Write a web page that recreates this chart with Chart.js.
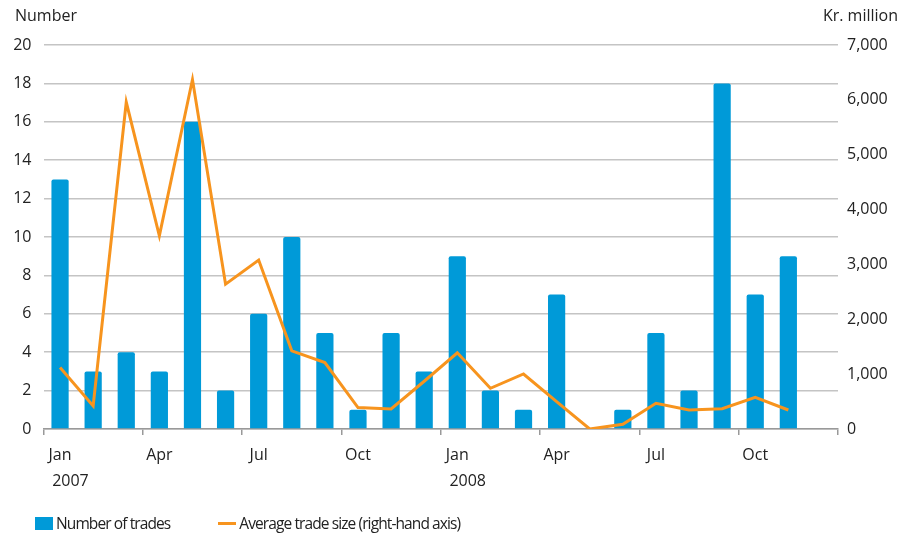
<!DOCTYPE html>
<html>
<head>
<meta charset="utf-8">
<script src="https://cdn.jsdelivr.net/npm/chart.js@4"></script>
<style>
  html,body{margin:0;padding:0;background:#fff;}
  #wrap{position:relative;width:907px;height:538px;}
  #legend{position:absolute;left:35px;top:512px;font:15.5px "Open Sans",sans-serif;letter-spacing:-0.9px;color:#222;display:flex;align-items:center;}
  .item{display:flex;align-items:center;}
  .box{width:18px;height:13px;background:#009AD8;margin-right:3px;}
  .ln{width:18px;height:3px;background:#F7941E;margin-right:3px;}
</style>
</head>
<body>
<div id="wrap">
  <canvas id="c"></canvas>
  <div id="legend">
    <div class="item"><span class="box"></span>Number of trades</div>
    <div class="item" style="margin-left:48px"><span class="ln"></span>Average trade size (right-hand axis)</div>
  </div>
</div>
<script>
// ===== 資料 =====
const MONTHS = ['Jan','Feb','Mar','Apr','May','Jun','Jul','Aug','Sep','Oct','Nov','Dec',
                'Jan','Feb','Mar','Apr','May','Jun','Jul','Aug','Sep','Oct','Nov','Dec'];
const YEARS = {0:'2007', 12:'2008'};
const TRADES = [13,3,4,3,16,2,6,10,5,1,5,3, 9,2,1,7,0,1,5,2,18,7,9];
const AVG_SIZE = [1120,420,5960,3520,6370,2640,3080,1425,1210,390,365,870,
                  1390,742,1003,500,0,86,468,346,370,578,346];
const LEFT_TITLE = 'Number', RIGHT_TITLE = 'Kr. million';

const FONT = '"Open Sans", sans-serif';
const TXT = '#222';

// 軸標題
const titles = {id:'titles', afterDraw(c){
  const {ctx} = c;
  ctx.save();
  ctx.font = '16px ' + FONT; ctx.fillStyle = TXT; ctx.textBaseline = 'middle';
  ctx.textAlign = 'left'; ctx.fillText(LEFT_TITLE, 15, 16);
  ctx.textAlign = 'right'; ctx.fillText(RIGHT_TITLE, 898, 16);
  ctx.restore();
}};

new Chart(document.getElementById('c'), {
  data: {
    labels: MONTHS,
    datasets: [
      {type:'line', data:AVG_SIZE, yAxisID:'y1', order:0,
       borderColor:'#F7941E', borderWidth:3, pointRadius:0, tension:0, borderJoinStyle:'miter'},
      {type:'bar', data:TRADES, yAxisID:'y', order:1,
       backgroundColor:'#009AD8', categoryPercentage:1, barPercentage:0.52, borderRadius:2}
    ]
  },
  options: {
    responsive:true, maintainAspectRatio:false, animation:false,
    layout:{padding:{top:45, bottom:49, left:0, right:0}},
    plugins:{legend:{display:false}, tooltip:{enabled:false}},
    scales:{
      x:{
        offset:true,
        grid:{offset:true, drawOnChartArea:false, tickLength:6,
              color:ctx=>(ctx.index===undefined || ctx.index%3===0) ? '#999' : 'transparent', lineWidth:1.5},
        border:{display:true, color:'#999', width:1.5},
        ticks:{autoSkip:false, maxRotation:0, padding:8, color:TXT,
               font:{family:FONT, size:16, lineHeight:1.6},
               // 年份略往右偏
               callback:(v,i)=> i%3!==0 ? '' : (YEARS[i] ? [MONTHS[i], '     ' + YEARS[i]] : MONTHS[i])},
        afterFit:s=>{s.height=60;}
      },
      y:{
        position:'left', min:0, max:20,
        ticks:{stepSize:2, padding:12, color:TXT, font:{family:FONT, size:16}},
        grid:{color:'#C4C4C4', lineWidth:1.5, drawTicks:false},
        border:{display:false},
        afterFit:s=>{s.width=43.5;}
      },
      y1:{
        position:'right', min:0, max:7000,
        ticks:{stepSize:1000, padding:9, color:TXT, font:{family:FONT, size:16},
               callback:v=>v.toLocaleString('en-US')},
        grid:{drawOnChartArea:false, drawTicks:false},
        border:{display:false},
        afterFit:s=>{s.width=69;}
      }
    }
  },
  plugins:[titles]
});
</script>
</body>
</html>
